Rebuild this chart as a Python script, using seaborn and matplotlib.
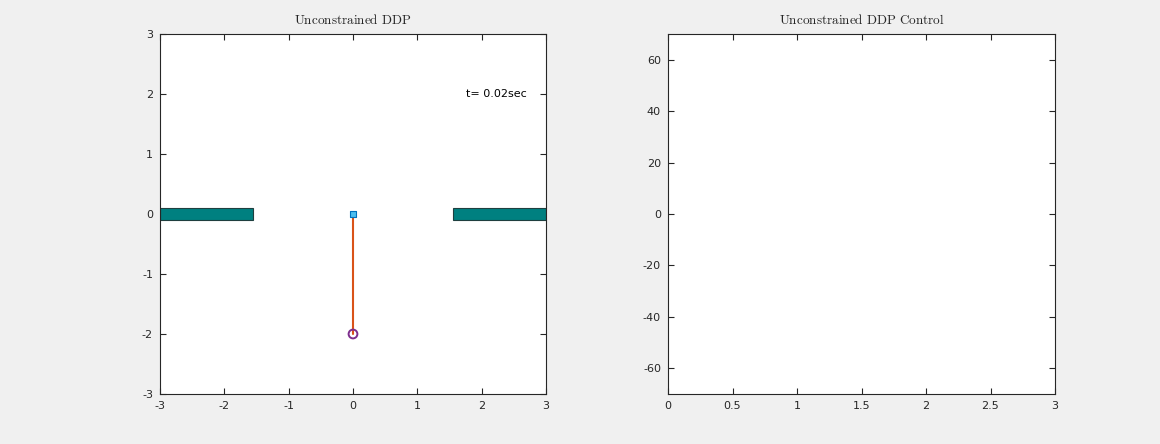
import matplotlib
matplotlib.use("Agg")
import matplotlib.pyplot as plt
import seaborn as sns
import pandas as pd

sns.set_theme(style="white")
plt.rcParams["font.family"] = ["DejaVu Sans"]
plt.rcParams["mathtext.fontset"] = "cm"
plt.rcParams["axes.unicode_minus"] = False

# Scene geometry
wall_left = [-3.0, -1.55]      # x extent of left wall
wall_right = [1.55, 3.0]       # x extent of right wall
wall_half_height = 0.1
cart_x = [0.0]
cart_y = [0.0]
pole_x = [0.0, 0.0]
pole_y = [0.0, -2.0]
time_label = "t= 0.02sec"

# Control panel ticks
ctrl_xticks = [0, 0.5, 1, 1.5, 2, 2.5, 3]
ctrl_yticks = [-60, -40, -20, 0, 20, 40, 60]

bg = "#f0f0f0"
fig = plt.figure(figsize=(11.6, 4.44), dpi=100, facecolor=bg)
W, H = 1160, 444
ax1 = fig.add_axes([160 / W, 50 / H, 386 / W, 360 / H])
ax2 = fig.add_axes([668 / W, 50 / H, 387 / W, 360 / H])


def matlab_axes(ax):
    ax.set_facecolor("white")
    for s in ax.spines.values():
        s.set_color("#262626")
        s.set_linewidth(0.8)
    ax.tick_params(direction="in", length=4, width=0.8, color="#262626",
                   labelsize=8, labelcolor="#262626", top=True, right=True,
                   bottom=True, left=True, pad=5)
    ax.grid(False)


# Left: pendulum scene
matlab_axes(ax1)
ax1.barh([0, 0], [wall_left[1] - wall_left[0], wall_right[1] - wall_right[0]],
         left=[wall_left[0], wall_right[0]], height=2 * wall_half_height,
         color="#008080", edgecolor="#1f3f3f", linewidth=0.8, zorder=2)
pole = pd.DataFrame({"x": pole_x, "y": pole_y})
sns.lineplot(data=pole, x="x", y="y", ax=ax1, color="#D95319", linewidth=1.5,
             sort=False, estimator=None, zorder=3)
sns.scatterplot(x=cart_x, y=cart_y, ax=ax1, marker="s", s=22,
                color="#4DBEEE", edgecolor="#0072BD", linewidth=0.8, zorder=4)
sns.scatterplot(x=[pole_x[1]], y=[pole_y[1]], ax=ax1, marker="o", s=40,
                facecolor="none", edgecolor="#7E2F8E", linewidth=1.4, zorder=4)
ax1.text(1.76, 2.0, time_label, fontsize=8, color="black", va="center", ha="left")
ax1.set_xlim(-3, 3)
ax1.set_ylim(-3, 3)
ax1.set_xticks([-3, -2, -1, 0, 1, 2, 3])
ax1.set_yticks([-3, -2, -1, 0, 1, 2, 3])
ax1.set_xlabel("")
ax1.set_ylabel("")
ax1.set_title(r"$\mathrm{Unconstrained\ DDP}$", fontsize=9.5, color="#262626", pad=7)

# Right: control history (empty at this time step)
matlab_axes(ax2)
ax2.set_xlim(0, 3)
ax2.set_ylim(-70, 70)
ax2.set_xticks(ctrl_xticks)
ax2.set_xticklabels(["0", "0.5", "1", "1.5", "2", "2.5", "3"])
ax2.set_yticks(ctrl_yticks)
ax2.set_title(r"$\mathrm{Unconstrained\ DDP\ Control}$", fontsize=9.5, color="#262626", pad=7)

fig.savefig("out.png", dpi=100, facecolor=bg)
